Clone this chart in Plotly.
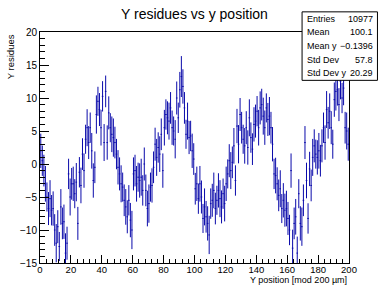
import plotly.graph_objects as go

bin_lo = 0
bin_hi = 200
n_bins = 200

residues = [
    2.0, 0.5, -1.0, -3.0, -5.0, -6.75, -5.25, -7.0, -6.75, -10.0,
    -12.0, -9.5, -12.5, -6.5, -9.0, -8.75, -13.5, -12.0, -1.5, -5.0,
    -3.0, -3.0, -4.5, -2.75, -9.0, -1.25, -3.25, 1.5, -1.0, 3.75,
    5.5, 3.25, 5.5, 2.0, -2.5, -0.5, 7.5, 9.5, 8.25, 5.5,
    10.25, 3.25, 11.0, 3.25, 7.75, 5.5, 4.5, 4.0, 3.25, 1.5,
    -0.5, -1.5, -3.0, -3.5, -5.5, -6.5, -8.0, -5.5, -8.5, -10.0,
    -1.5, -1.0, -3.0, -2.0, -2.5, -2.0, -4.0, 0.0, -4.0, -6.75,
    -6.0, -3.5, -3.25, -0.5, 3.0, 1.0, 2.5, 1.5, 4.5, -1.0,
    5.5, 7.5, 7.0, 6.5, 8.5, 5.5, 5.0, 3.75, 10.0, 7.0,
    11.25, 13.25, 11.75, 8.5, 4.5, 6.5, 4.0, 4.25, 2.0, 0.75,
    -3.75, -3.0, -5.25, -3.0, -5.0, -8.25, -6.5, -8.0, -9.0, -10.75,
    -6.0, -5.5, -4.0, -6.75, -5.5, -4.0, -5.25, -6.5, -4.5, -6.0,
    -3.0, -1.5, 0.5, -1.0, 0.25, 2.75, -2.5, 5.75, 3.0, 7.5,
    5.5, 3.75, 2.75, 5.5, 2.5, 7.0, 4.0, 2.25, 6.0, 6.5,
    8.0, 5.5, 8.5, 9.0, 7.25, 5.5, 8.5, 6.75, 7.25, 5.5,
    3.0, -1.5, -1.75, -3.0, -4.75, -3.75, -6.75, -5.5, -7.0, -6.75,
    -8.25, -10.0, -1.0, -12.75, -9.0, -8.0, -13.5, -4.5, -9.0, -9.5,
    -5.5, 3.25, -2.5, -8.25, -0.75, -3.25, 1.0, 2.75, 1.5, 1.0,
    2.0, 0.5, 2.75, 5.5, 3.25, 8.25, 6.25, 8.0, 5.5, 3.0,
    9.75, 11.0, 11.25, 9.0, 12.5, 10.0, 11.5, 5.5, 5.0, 3.0,
]

errors = [
    2.6, 2.3, 2.4, 2.7, 2.2, 2.5, 2.8, 2.3, 2.6, 2.4, 2.9, 2.5, 2.2, 2.7, 2.4, 2.6, 3.0, 2.5, 2.3, 2.8,
    2.4, 2.6, 2.2, 2.9, 2.5, 2.3, 2.7, 2.4, 2.6, 2.2, 2.8, 2.5, 2.3, 2.7, 2.6, 2.4, 2.9, 2.2, 2.5, 2.7,
    2.3, 2.8, 2.4, 2.6, 2.5, 2.2, 2.7, 2.9, 2.4, 2.3, 2.6, 2.5, 2.8, 2.2, 2.4, 2.7, 2.5, 2.3, 2.6, 2.9,
    2.5, 2.4, 2.7, 2.2, 2.6, 2.8, 2.3, 2.5, 2.4, 2.7, 2.9, 2.2, 2.6, 2.4, 2.5, 2.8, 2.3, 2.7, 2.4, 2.6,
    2.7, 2.3, 2.5, 2.8, 2.4, 2.6, 2.2, 2.9, 2.5, 2.3, 2.7, 3.1, 2.6, 2.4, 2.2, 2.8, 2.5, 2.3, 2.6, 2.4,
    2.4, 2.6, 2.3, 2.7, 2.5, 2.2, 2.8, 2.4, 2.6, 2.9, 2.3, 2.5, 2.7, 2.4, 2.2, 2.6, 2.8, 2.5, 2.3, 2.7,
    2.6, 2.2, 2.5, 2.8, 2.4, 2.7, 2.3, 2.6, 2.9, 2.5, 2.4, 2.2, 2.7, 2.5, 2.6, 2.8, 2.3, 2.4, 2.6, 2.5,
    2.3, 2.7, 2.5, 2.4, 2.8, 2.6, 2.2, 2.5, 2.9, 2.4, 2.6, 2.3, 2.7, 2.5, 2.4, 2.8, 2.2, 2.6, 2.5, 2.7,
    2.5, 2.3, 2.6, 2.8, 2.4, 2.7, 2.5, 2.2, 2.6, 2.9, 2.4, 2.5, 2.7, 2.3, 2.6, 2.4, 2.8, 2.5, 2.2, 2.6,
    2.7, 2.4, 2.5, 2.3, 2.6, 2.8, 2.4, 2.7, 2.5, 2.2, 2.6, 2.9, 2.4, 2.5, 2.7, 2.3, 2.6, 2.4, 2.8, 2.5,
]

stat_labels = ["Entries", "Mean", "Mean y", "Std Dev", "Std Dev y"]
stat_values = ["10977", "100.1", "\u22120.1396", "57.8", "20.29"]

title_text = "Y residues vs y position"
x_title = "Y position [mod 200 \u00b5m]"
y_title = "Y residues"

bw = (bin_hi - bin_lo) / n_bins
centers = [bin_lo + (i + 0.5) * bw for i in range(n_bins)]

W, H = 379, 287
L, R, T, B = 40, 29.5, 32.3, 22
PW = W - L - R
PH = H - T - B


def px(x):
    return (x - L) / PW


def py(y):
    return (H - B - y) / PH


FONT = "Liberation Sans, Arial, Helvetica, sans-serif"
BLUE = "rgb(10,10,170)"

fig = go.Figure()
fig.add_trace(go.Scatter(
    x=centers, y=residues, mode="markers",
    marker=dict(size=0.1, color=BLUE, opacity=0),
    error_y=dict(type="data", array=errors, visible=True, color=BLUE, thickness=1, width=0),
    error_x=dict(type="constant", value=bw / 2, visible=True, color=BLUE, thickness=1, width=0),
    showlegend=False, hoverinfo="skip",
))

axis_common = dict(
    showgrid=False, zeroline=False, showline=True, linecolor="black", linewidth=1,
    mirror=True, ticks="inside", tickcolor="black", tickwidth=1,
)

fig.update_layout(
    width=W, height=H,
    margin=dict(l=L, r=R, t=T, b=B, pad=0),
    paper_bgcolor="white", plot_bgcolor="white",
    xaxis=dict(range=[bin_lo, bin_hi], tick0=0, dtick=20, ticklen=8,
               tickfont=dict(family=FONT, size=9.5, color="black"),
               minor=dict(dtick=4, ticklen=4, ticks="inside", tickcolor="black"),
               **axis_common),
    yaxis=dict(range=[-15, 20], tick0=0, dtick=5, ticklen=9,
               tickfont=dict(family=FONT, size=10, color="black"),
               minor=dict(dtick=1, ticklen=5, ticks="inside", tickcolor="black"),
               **axis_common),
)
try:
    fig.update_xaxes(ticklabelstandoff=-2)
except Exception:
    pass

ann = []
ann.append(dict(text=title_text, x=px(195), y=py(14), xref="paper", yref="paper",
                xanchor="center", yanchor="middle", showarrow=False,
                font=dict(family=FONT, size=14, color="black")))
ann.append(dict(text=x_title, x=px(350), y=py(289.5), xref="paper", yref="paper",
                xanchor="right", yanchor="bottom", showarrow=False,
                font=dict(family=FONT, size=9, color="black")))
ann.append(dict(text=y_title, x=px(10), y=py(33), xref="paper", yref="paper",
                xanchor="center", yanchor="top", textangle=-90, showarrow=False,
                font=dict(family=FONT, size=9.5, color="black")))

box_l, box_r, box_t, box_b = 302.5, 378, 12, 81
shapes = [dict(type="rect", xref="paper", yref="paper",
               x0=px(box_l), x1=px(box_r), y0=py(box_b), y1=py(box_t),
               line=dict(color="black", width=1), fillcolor="white", layer="above")]
row_h = (box_b - box_t) / len(stat_labels)
for i, (lab, val) in enumerate(zip(stat_labels, stat_values)):
    yc = box_t + row_h * (i + 0.5)
    ann.append(dict(text=lab, x=px(box_l + 3), y=py(yc), xref="paper", yref="paper",
                    xanchor="left", yanchor="middle", showarrow=False,
                    font=dict(family=FONT, size=9, color="black")))
    ann.append(dict(text=val, x=px(box_r - 2), y=py(yc), xref="paper", yref="paper",
                    xanchor="right", yanchor="middle", showarrow=False,
                    font=dict(family=FONT, size=9, color="black")))

fig.update_layout(annotations=ann, shapes=shapes)
fig.write_html("out.html", config={"displayModeBar": False},
               post_script="document.body.style.margin='0';")
